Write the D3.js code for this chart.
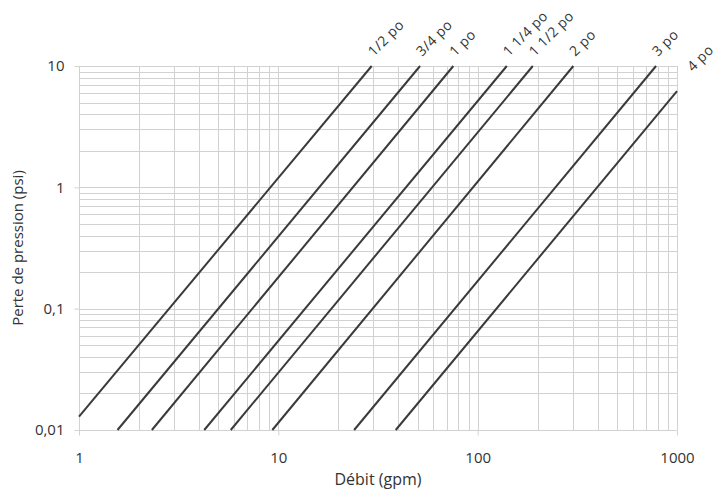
<!DOCTYPE html>
<html>
<head>
<meta charset="utf-8">
<script src="https://cdn.jsdelivr.net/npm/d3@7"></script>
<style>
  body { margin: 0; background: #fff; }
  svg { display: block; }
  text { font-family: "Open Sans", sans-serif; fill: #333; }
</style>
</head>
<body>
<svg id="chart" width="718" height="495"></svg>
<script>
// Pipe sizes and their flow / pressure-loss end points (gpm, psi)
const pipeSizes = ["1/2 po", "3/4 po", "1 po", "1 1/4 po", "1 1/2 po", "2 po", "3 po", "4 po"];
const flowStart = [1, 1.56, 2.32, 4.25, 5.77, 9.33, 24.0, 38.8];
const lossStart = [0.0129, 0.01, 0.01, 0.01, 0.01, 0.01, 0.01, 0.01];
const flowEnd   = [29.4, 51.4, 75.5, 140, 189, 302, 785, 1000];
const lossEnd   = [10, 10, 10, 10, 10, 10, 10, 6.2];

const xTicks = [1, 10, 100, 1000];
const xTickLabels = ["1", "10", "100", "1000"];
const yTicks = [0.01, 0.1, 1, 10];
const yTickLabels = ["0,01", "0,1", "1", "10"];

const margin = { left: 79, right: 41, top: 66, bottom: 65 };
const W = 718, H = 495;

const svg = d3.select("#chart");
const x = d3.scaleLog().domain([1, 1000]).range([margin.left, W - margin.right]);
const y = d3.scaleLog().domain([0.01, 10]).range([H - margin.bottom, margin.top]);

// minor + major grid values
const gridVals = (lo, hi) => {
  const out = [];
  for (let d = lo; d < hi; d *= 10) for (let k = 1; k < 10; k++) out.push(d * k);
  out.push(hi);
  return out;
};
const gx = gridVals(1, 1000), gy = gridVals(0.01, 10);

const grid = svg.append("g").attr("stroke", "#d2d2d2").attr("stroke-width", 1).attr("shape-rendering", "crispEdges");
grid.selectAll(".vx").data(gx).join("line")
  .attr("x1", d => Math.round(x(d)) + 0.5).attr("x2", d => Math.round(x(d)) + 0.5)
  .attr("y1", y(10)).attr("y2", y(0.01));
grid.selectAll(".hy").data(gy).join("line")
  .attr("y1", d => Math.round(y(d)) + 0.5).attr("y2", d => Math.round(y(d)) + 0.5)
  .attr("x1", x(1)).attr("x2", x(1000));

// axes: only decade ticks, tick marks outside the frame
const xAxis = d3.axisBottom(x).tickValues(xTicks).tickFormat((d, i) => xTickLabels[i]).tickSize(5).tickPadding(17);
const yAxis = d3.axisLeft(y).tickValues(yTicks).tickFormat((d, i) => yTickLabels[i]).tickSize(5).tickPadding(10);

const gX = svg.append("g").attr("transform", `translate(0,${Math.round(y(0.01)) + 0.5})`).call(xAxis);
const gY = svg.append("g").attr("transform", `translate(${Math.round(x(1)) + 0.5},0)`).call(yAxis);
[gX, gY].forEach(g => {
  g.select(".domain").remove();
  g.selectAll(".tick line").attr("stroke", "#d2d2d2");
  g.selectAll(".tick text").attr("font-size", 15).style("font-family", '"Open Sans", sans-serif').attr("fill", "#333");
});

// pipe lines with rotated size labels at their upper ends
const lines = svg.append("g").attr("stroke", "#3a3a3a").attr("stroke-width", 2).attr("fill", "none");
pipeSizes.forEach((name, i) => {
  lines.append("line")
    .attr("x1", x(flowStart[i])).attr("y1", y(lossStart[i]))
    .attr("x2", x(flowEnd[i])).attr("y2", y(lossEnd[i]));
  const ex = x(flowEnd[i]), ey = y(lossEnd[i]);
  const atTop = lossEnd[i] >= 10;
  const lx = ex + (atTop ? 2 : 16), ly = ey + (atTop ? -9 : -19);
  svg.append("text")
    .attr("transform", `translate(${lx},${ly}) rotate(-45)`)
    .attr("font-size", 14)
    .attr("letter-spacing", 0.4)
    .text(name);
});

// axis titles
svg.append("text").attr("x", (x(1) + x(1000)) / 2).attr("y", 485)
  .attr("text-anchor", "middle").attr("font-size", 16).text("Débit (gpm)");
svg.append("text").attr("transform", `translate(23,${(y(10) + y(0.01)) / 2}) rotate(-90)`)
  .attr("text-anchor", "middle").attr("font-size", 15).text("Perte de pression (psi)");
</script>
</body>
</html>
